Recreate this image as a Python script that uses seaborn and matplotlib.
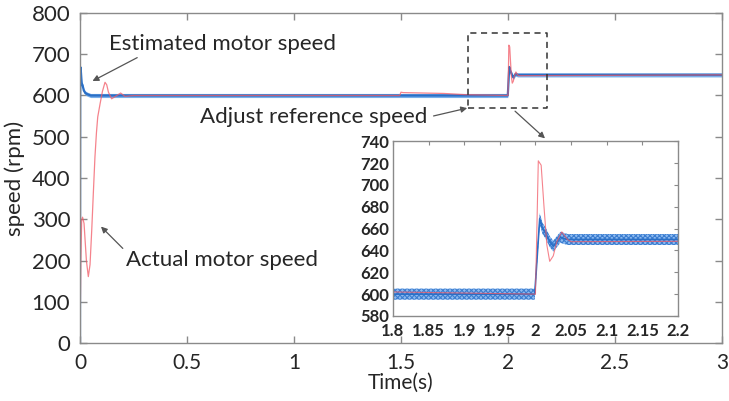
import matplotlib
matplotlib.use("Agg")
import matplotlib.pyplot as plt
import seaborn as sns
import numpy as np

sns.set_theme(style="white")
plt.rcParams['font.family'] = ['Lato', 'DejaVu Sans']
plt.rcParams['hatch.linewidth'] = 0.8

# ---- data ----
# estimated motor speed (blue) keypoints: time (s), speed (rpm)
est_t = [0.0, 0.001, 0.003, 0.008, 0.0125, 0.018, 0.025, 0.035, 0.05, 1.5, 1.999,
         2.0, 2.003, 2.006, 2.01, 2.015, 2.02, 2.025, 2.03, 2.035, 2.045, 3.0]
est_v = [0, 600, 668, 630, 624, 612, 606, 603, 600, 600, 600,
         610, 640, 669, 660, 655, 648, 644, 648, 652, 650, 650]
# actual motor speed (red) keypoints
act_t = [0.0, 0.004, 0.008, 0.012, 0.019, 0.03, 0.039, 0.047, 0.055, 0.063, 0.070, 0.077,
         0.083, 0.094, 0.105, 0.117, 0.125, 0.133, 0.148, 0.160, 0.172, 0.19, 0.21, 0.25,
         1.494, 1.5, 1.51, 1.7, 1.8, 1.9, 1.999,
         2.0, 2.002, 2.004, 2.008, 2.012, 2.016, 2.020, 2.025, 2.030, 2.037, 2.045, 2.05, 3.0]
act_v = [0, 200, 298, 305, 290, 200, 161, 190, 274, 370, 451, 510,
         548, 580, 610, 632, 626, 608, 592, 596, 600, 606, 598, 600,
         600, 608, 607, 605, 602, 601, 600,
         600, 660, 722, 718, 680, 645, 630, 635, 648, 657, 650, 648, 650]
ripple_amp = 5  # half-width of the estimated-speed ripple band (rpm)

main_xticks = [0, 0.5, 1, 1.5, 2, 2.5, 3]
main_xlabels = ["0", "0.5", "1", "1.5", "2", "2.5", "3"]
main_yticks = list(range(0, 801, 100))
inset_xticks = [1.8, 1.85, 1.9, 1.95, 2.0, 2.05, 2.1, 2.15, 2.2]
inset_xlabels = ["1.8", "1.85", "1.9", "1.95", "2", "2.05", "2.1", "2.15", "2.2"]
inset_yticks = list(range(580, 741, 20))

BLUE_FILL = "#6aa6e8"
BLUE = "#2a6fc6"
RED = "#f25a66"
FRAME = "#8a8a8a"

fig = plt.figure(figsize=(7.29, 4.01), dpi=100)
ax = fig.add_axes([0.1097, 0.1446, 0.8807, 0.823])

def draw(a, lw_red, lw_blue, hatch=None):
    t = np.array(est_t); v = np.array(est_v)
    if hatch:
        a.fill_between(t, v - ripple_amp, v + ripple_amp, facecolor="#8dbaf0",
                       edgecolor="#3b7dd0", hatch=hatch, lw=0)
    else:
        a.fill_between(t, v - ripple_amp, v + ripple_amp, color=BLUE_FILL, lw=0, alpha=0.9)
    sns.lineplot(x=est_t, y=est_v, ax=a, color=BLUE, lw=lw_blue, sort=False, estimator=None)
    sns.lineplot(x=act_t, y=act_v, ax=a, color=RED, lw=lw_red, alpha=0.75, sort=False, estimator=None)

draw(ax, 0.9, 1.6)
ax.set_xlim(0, 3)
ax.set_ylim(0, 800)
ax.set_xticks(main_xticks)
ax.set_xticklabels(main_xlabels)
ax.set_yticks(main_yticks)
ax.tick_params(direction="in", length=5, width=1, color=FRAME, labelsize=16,
               top=True, right=True, bottom=True, left=True, pad=7)
ax.tick_params(axis="x", pad=7, labelsize=15)
for s in ax.spines.values():
    s.set_color(FRAME); s.set_linewidth(1)
ax.set_xlabel("Time(s)", fontsize=15, labelpad=0)
ax.set_ylabel("speed (rpm)", fontsize=16, labelpad=5)

# dashed zoom box
ax.plot([1.813, 2.18, 2.18, 1.813, 1.813], [570, 570, 752, 752, 570],
        ls=(0, (4, 3)), color="#333333", lw=1.1)

arrow = dict(arrowstyle="-|>", color="#555555", lw=0.9, mutation_scale=9)
ax.annotate("Estimated motor speed", xy=(0.047, 632), xytext=(0.668, 724),
            fontsize=16, ha="center", va="center", arrowprops=dict(arrow, shrinkA=0, relpos=(0.15, 0)))
ax.annotate("Actual motor speed", xy=(0.089, 287), xytext=(0.664, 202),
            fontsize=16, ha="center", va="center", arrowprops=dict(arrow, shrinkA=0, relpos=(0.0, 0.9)))
ax.annotate("Adjust reference speed", xy=(1.822, 571), xytext=(1.093, 547),
            fontsize=16, ha="center", va="center", arrowprops=dict(arrow, shrinkA=2, relpos=(1.0, 0.5)))
ax.annotate("", xy=(2.173, 496), xytext=(2.033, 562), arrowprops=dict(arrow, shrinkA=0, shrinkB=0))

# inset
ins = fig.add_axes([0.539, 0.212, 0.391, 0.436])
draw(ins, 0.8, 1.2, hatch="xxxxxxx")
ins.set_xlim(1.8, 2.2)
ins.set_ylim(580, 740)
ins.set_xticks(inset_xticks)
ins.set_xticklabels(inset_xlabels)
ins.set_yticks(inset_yticks)
ins.tick_params(direction="in", length=3, width=0.8, color=FRAME, labelsize=12,
                top=True, right=True, pad=3)
ins.tick_params(axis="x", pad=5)
for lab in ins.get_xticklabels() + ins.get_yticklabels():
    lab.set_fontweight("bold")
for s in ins.spines.values():
    s.set_color(FRAME); s.set_linewidth(1)
ins.set_facecolor("white")

fig.savefig("out.png", dpi=100)
